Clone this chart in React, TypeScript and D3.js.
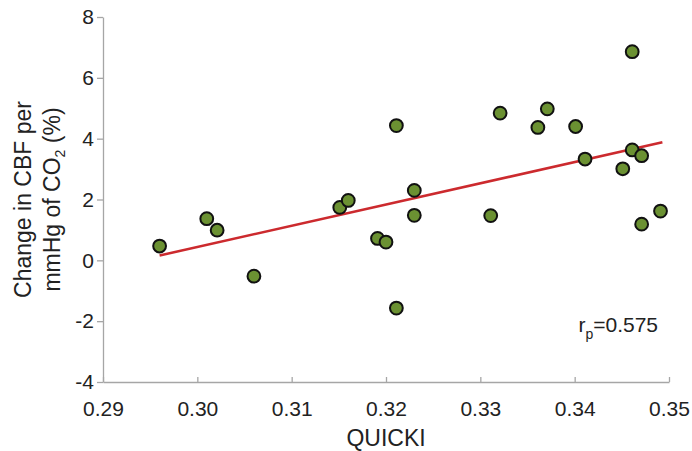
import { useEffect, useRef } from "react";
import * as d3 from "d3";

const WIDTH = 692;
const HEIGHT = 451;
const MARGIN = { top: 17, right: 23, bottom: 69, left: 103 };

// QUICKI value of each subject
const quicki = [
  0.296, 0.301, 0.3021, 0.306, 0.3151, 0.316, 0.3191, 0.32, 0.3211, 0.3211,
  0.323, 0.323, 0.3311, 0.3321, 0.3371, 0.3361, 0.3401, 0.3411, 0.3461, 0.3461,
  0.3471, 0.3451, 0.3471, 0.3491,
];
// change in CBF per mmHg of CO2 (%)
const cbfChange = [
  0.47, 1.37, 0.99, -0.52, 1.74, 1.97, 0.72, 0.6, 4.43, -1.57,
  2.3, 1.48, 1.47, 4.84, 4.98, 4.37, 4.4, 3.33, 6.86, 3.63,
  3.44, 3.01, 1.19, 1.62,
];
// end points of the fitted line
const fitX = [0.296, 0.3493];
const fitY = [0.16, 3.88];

const xTicks = [0.29, 0.3, 0.31, 0.32, 0.33, 0.34, 0.35];
const yTicks = [-4, -2, 0, 2, 4, 6, 8];

const FONT = "'Liberation Sans', Arial, sans-serif";

export default function App() {
  const xAxisRef = useRef<SVGGElement>(null);
  const yAxisRef = useRef<SVGGElement>(null);

  const boundsWidth = WIDTH - MARGIN.left - MARGIN.right;
  const boundsHeight = HEIGHT - MARGIN.top - MARGIN.bottom;

  const xScale = d3.scaleLinear().domain([0.29, 0.35]).range([0, boundsWidth]);
  const yScale = d3.scaleLinear().domain([-4, 8]).range([boundsHeight, 0]);

  const points = quicki.map((q, i) => ({ x: q, y: cbfChange[i] }));
  const fit = fitX.map((x, i) => ({ x, y: fitY[i] }));
  const lineGen = d3
    .line<{ x: number; y: number }>()
    .x((d) => xScale(d.x))
    .y((d) => yScale(d.y));

  useEffect(() => {
    const gx = d3.select(xAxisRef.current);
    gx.selectAll("*").remove();
    gx.call(
      d3
        .axisBottom(xScale)
        .tickValues(xTicks)
        .tickFormat((d) => (d as number).toFixed(2))
        .tickSizeInner(-5)
        .tickSizeOuter(0)
        .tickPadding(19)
    );
    const gy = d3.select(yAxisRef.current);
    gy.selectAll("*").remove();
    gy.call(
      d3
        .axisLeft(yScale)
        .tickValues(yTicks)
        .tickFormat((d) => String(d)) // plain hyphen, like the original
        .tickSizeInner(6)
        .tickSizeOuter(0)
        .tickPadding(3)
    );
    [gx, gy].forEach((g) => {
      g.select(".domain").attr("stroke", "#a6a6a6").attr("stroke-width", 1.3);
      g.selectAll(".tick line").attr("stroke", "#a6a6a6").attr("stroke-width", 1.3);
      g.selectAll(".tick text")
        .attr("fill", "#222")
        .style("font-family", FONT)
        .style("font-size", "21px");
    });
  }, [xScale, yScale]);

  return (
    <svg
      width={WIDTH}
      height={HEIGHT}
      style={{ position: "absolute", left: 0, top: 0, background: "#fff" }}
    >
      <g transform={`translate(${MARGIN.left},${MARGIN.top})`}>
        <g ref={yAxisRef} />
        <g ref={xAxisRef} transform={`translate(0,${boundsHeight})`} />
        <path
          d={lineGen(fit) ?? ""}
          fill="none"
          stroke="#cc2a2e"
          strokeWidth={2.6}
        />
        {points.map((d, i) => (
          <circle
            key={i}
            cx={xScale(d.x)}
            cy={yScale(d.y)}
            r={6.4}
            fill="#6b9132"
            stroke="#111"
            strokeWidth={2}
          />
        ))}
        <text
          x={xScale(0.3404)}
          y={yScale(-2.37)}
          fill="#222"
          style={{ fontFamily: FONT, fontSize: "21px" }}
        >
          r
          <tspan dy={7} style={{ fontSize: "14px" }}>
            p
          </tspan>
          <tspan dy={-7}>=0.575</tspan>
        </text>
      </g>
      <text
        x={MARGIN.left + xScale(0.32)}
        y={446}
        textAnchor="middle"
        fill="#222"
        style={{ fontFamily: FONT, fontSize: "23px" }}
      >
        QUICKI
      </text>
      <g
        transform={`translate(0,${MARGIN.top + boundsHeight / 2}) rotate(-90)`}
        fill="#222"
        style={{ fontFamily: FONT, fontSize: "23px" }}
      >
        <text x={0} y={31} textAnchor="middle">
          Change in CBF per
        </text>
        <text x={0} y={60} textAnchor="middle">
          mmHg of CO
          <tspan dy={5} style={{ fontSize: "14px" }}>
            2
          </tspan>
          <tspan dy={-5}> (%)</tspan>
        </text>
      </g>
    </svg>
  );
}
